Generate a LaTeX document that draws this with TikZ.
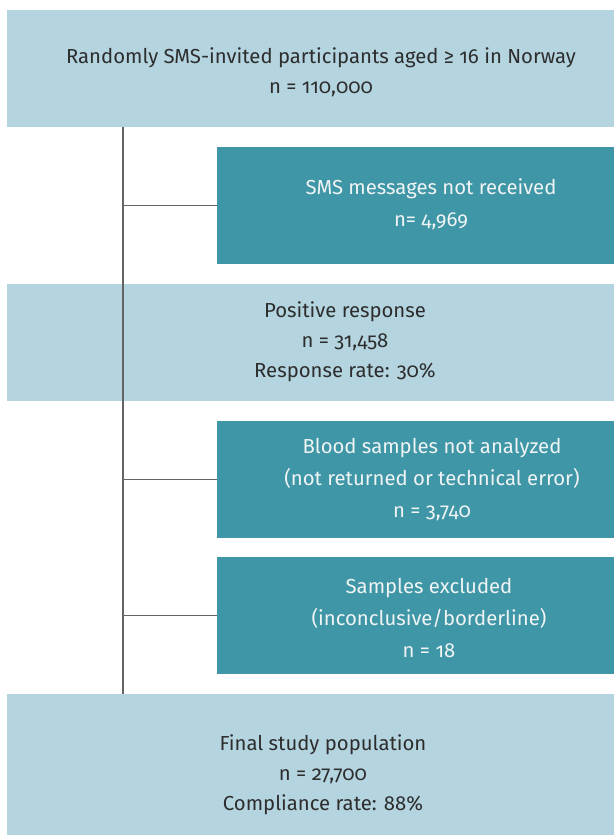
\documentclass[tikz,border=0pt]{standalone}
\usepackage{fontspec}
\setmainfont[RawFeature=+onum]{Fira Sans}
\usetikzlibrary{calc}
\definecolor{lightbox}{RGB}{180,212,224}
\definecolor{tealbox}{RGB}{62,150,166}
\definecolor{darktext}{RGB}{45,45,45}
\definecolor{whitetext}{RGB}{240,244,245}
\definecolor{connline}{RGB}{100,100,100}
\tikzset{
  x=1pt,y=-1pt,
  lbox/.style={fill=lightbox, draw=none, anchor=north west, inner sep=0pt},
  tbox/.style={fill=tealbox, draw=none, anchor=north west, inner sep=0pt},
  ltext/.style={text=darktext, align=center, font=\fontsize{20.3}{30}\selectfont, inner sep=0pt},
  ttext/.style={text=whitetext, align=center, font=\fontsize{20.3}{32}\selectfont, inner sep=0pt},
  conn/.style={draw=connline, line width=1.4pt}
}
\begin{document}
\begin{tikzpicture}
\useasboundingbox (0,0) rectangle (614,837);
% boxes
\node[lbox, minimum width=607, minimum height=117] (top) at (7,10) {};
\node[tbox, minimum width=397, minimum height=117] (sms) at (217,147) {};
\node[lbox, minimum width=607, minimum height=117] (pos) at (7,284) {};
\node[tbox, minimum width=397, minimum height=117] (blood) at (217,421) {};
\node[tbox, minimum width=397, minimum height=117] (excl) at (217,557) {};
\node[lbox, minimum width=607, minimum height=141] (final) at (7,694) {};
% texts
\node[ltext] (toptxt) at (321,72) {Randomly SMS-invited participants aged ≥ 16 in Norway\\n = 110,000};
\node[ttext] (smstxt) at (431,204) {SMS messages not received\\n= 4,969};
\node[ltext] (postxt) at (345,342) {Positive response\\n = 31,458\\Response rate: 30\%};
\node[ttext] (bloodtxt) at (432,480) {Blood samples not analyzed\\(not returned or technical error)\\n = 3,740};
\node[ttext] (excltxt) at (429,618) {Samples excluded\\(inconclusive/borderline)\\n = 18};
\node[ltext] (finaltxt) at (323,775) {Final study population\\n = 27,700\\Compliance rate: 88\%};
% connectors
\coordinate (vt) at ($(top.south west)+(116,0)$);
\draw[conn] (vt) -- (vt |- final.north);
\draw[conn] (sms.west -| vt) -- (sms.west);
\draw[conn] (blood.west -| vt) -- (blood.west);
\draw[conn] (excl.west -| vt) -- (excl.west);
\end{tikzpicture}
\end{document}
